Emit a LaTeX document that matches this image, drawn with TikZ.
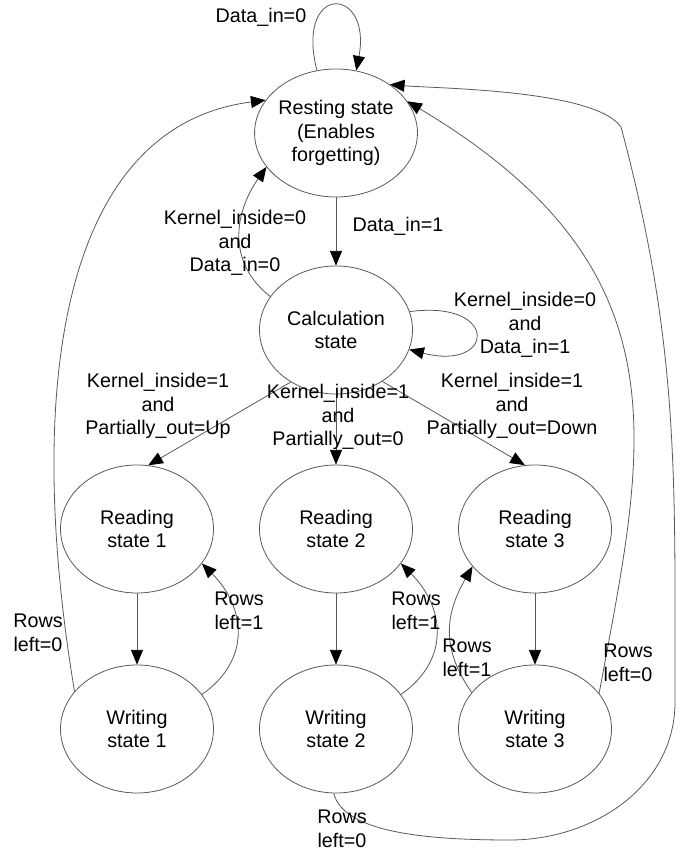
\documentclass[tikz,border=0pt]{standalone}
\usepackage{fontspec}
\setmainfont{Liberation Sans}
\usetikzlibrary{arrows.meta,shapes.geometric}

\begin{document}
\begin{tikzpicture}[x=0.75pt, y=0.75pt,
    every node/.style={font=\fontsize{14.8}{17.6}\selectfont, align=center},
    state/.style={ellipse, draw=black!65, line width=0.6pt, inner sep=0pt,
                  minimum width=114.75pt, minimum height=96pt},
    trans/.style={draw=black!65, line width=0.6pt,
                  -{Triangle[length=11pt, width=9pt, color=black]}},
  ]
  \useasboundingbox (0,0) rectangle (685,852);

  \node [state] (rest)   at (336,719) {Resting state\\(Enables\\forgetting)};
  \node [state] (calc)   at (336,522) {Calculation\\state};
  \node [state] (read1)  at (137,323) {Reading\\state 1};
  \node [state] (read2)  at (336,323) {Reading\\state 2};
  \node [state] (read3)  at (535,323) {Reading\\state 3};
  \node [state] (write1) at (137,123) {Writing\\state 1};
  \node [state] (write2) at (336,123) {Writing\\state 2};
  \node [state] (write3) at (535,123) {Writing\\state 3};

  % waypoints of the long way back from writing state 2
  \coordinate (bot)  at (510,12);
  \coordinate (side) at (675,150);
  \coordinate (kink) at (621,725);

  % resting and calculation
  \draw [trans] (rest.107) .. controls +(-22,88) and +(16,85) .. (rest.72);
  \draw [trans] (rest) -- (calc);
  \draw [trans] (calc.153) to[out=142, in=235, looseness=1.1] (rest.206);
  \draw [trans] (calc.14) .. controls +(90,12) and +(86,-22) .. (calc.-15);

  \node (l-din0) at (261,835) {Data\_in=0};
  \node (l-din1) at (398,626) {Data\_in=1};
  \node (l-back) at (235,609) {Kernel\_inside=0\\and\\Data\_in=0};
  \node (l-stay) at (525,527) {Kernel\_inside=0\\and\\Data\_in=1};

  % calculation -> reading
  \draw [trans] (calc.229) -- (read1.80);
  \draw [trans] (calc) -- (read2);
  \draw [trans] (calc.312) -- (read3.99);

  \node (l-up)   at (158,446) {Kernel\_inside=1\\and\\Partially\_out=Up};
  \node (l-zero) at (338,435) {Kernel\_inside=1\\and\\Partially\_out=0};
  \node (l-down) at (512,446) {Kernel\_inside=1\\and\\Partially\_out=Down};

  % reading <-> writing
  \draw [trans] (read1) -- (write1);
  \draw [trans] (read2) -- (write2);
  \draw [trans] (read3) -- (write3);
  \draw [trans] (write1.28) to[out=35, in=-45, looseness=1.2] (read1.-28);
  \draw [trans] (write2.28) to[out=35, in=-45, looseness=1.2] (read2.-28);
  \draw [trans] (write3.150) to[out=125, in=-120, looseness=1.1] (read3.211);

  \node (l-r1) at (239,241) {Rows\\left=1};
  \node (l-r2) at (416,241) {Rows\\left=1};
  \node (l-r3) at (467,194) {Rows\\left=1};

  % writing -> resting
  \draw [trans] (write1.149) .. controls +(-53,319) and +(-198,-25) .. (rest.155);
  \draw [trans] (write3.29) .. controls +(45,245) and +(285,-170) .. (rest.24);
  \draw [trans] (write2.268) .. controls +(10,-40) and +(-80,0) .. (bot)
    to[out=0, in=-90] (side) to[out=90, in=-75] (kink)
    to[out=125, in=-5, looseness=0.5] (rest.42);

  \node (l-w1) at (38,219)  {Rows\\left=0};
  \node (l-w3) at (628,189) {Rows\\left=0};
  \node (l-w2) at (342,23)  {Rows\\left=0};
\end{tikzpicture}
\end{document}
